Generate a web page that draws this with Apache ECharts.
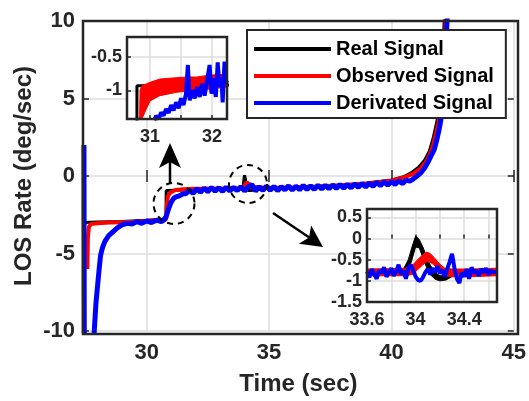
<!DOCTYPE html>
<html><head><meta charset="utf-8">
<script src="https://cdn.jsdelivr.net/npm/echarts@6/dist/echarts.min.js"></script>
<style>html,body{margin:0;padding:0;background:#fff}#c{width:529px;height:401px}</style>
</head><body><div id="c"></div>
<script>
// ---- tick labels ----
const mainXTicks = [30, 35, 40, 45];
const mainYTicks = [-10, -5, 0, 5, 10];
const inset1XTicks = [31, 31.5, 32];
const inset1XLabels = [31, 32];
const inset1YTicks = [-1, -0.5];
const inset2XLabels = [33.6, 34, 34.4];
const inset2YLabels = [-1.5, -1, -0.5, 0, 0.5];
const legendNames = ['Real Signal', 'Observed Signal', 'Derivated Signal'];

// ---- main chart series [time, value] ----
const realSignal = [[27.42,-3.0],[28,-2.97],[29,-2.93],[30,-2.85],[30.79,-2.78],[30.8,-0.93],[31.5,-0.9],[32,-0.86],[33,-0.82],[33.92,-0.78],[33.95,-0.55],[33.98,-0.15],[34.0,0.05],[34.03,-0.15],[34.06,-0.5],[34.1,-0.8],[34.15,-0.93],[34.2,-0.98],[34.25,-0.93],[34.3,-0.82],[35,-0.76],[36,-0.72],[37,-0.66],[38,-0.58],[39,-0.45],[40,-0.25],[40.5,-0.05],[40.8,0.2],[41.1,0.55],[41.35,1.0],[41.55,1.6],[41.7,2.4],[41.87,3.6],[41.97,4.8],[42.05,6.5],[42.12,8.5],[42.16,10.2],[42.2,12]];
const observedSignal = [[27.58,-6.0],[27.6,-4],[27.64,-3.3],[27.72,-3.1],[28,-3.05],[28.5,-3.0],[29,-2.98],[29.5,-2.95],[30,-2.9],[30.5,-2.85],[30.8,-2.8],[30.83,-1.8],[30.87,-1.3],[30.95,-1.1],[31.05,-1.0],[31.2,-0.9],[31.5,-0.85],[32,-0.83],[33,-0.8],[33.95,-0.8],[34.0,-0.65],[34.05,-0.45],[34.1,-0.33],[34.15,-0.45],[34.22,-0.7],[34.3,-0.8],[35,-0.77],[36,-0.73],[37,-0.68],[38,-0.6],[39,-0.48],[40,-0.3],[40.5,-0.1],[40.9,0.15],[41.2,0.5],[41.45,1.0],[41.65,1.7],[41.8,2.6],[41.95,3.6],[42.05,5],[42.15,7.5],[42.22,10],[42.3,12]];
const derivatedSignal = [[27.44,2.0],[27.47,-30],[27.8,-14],[27.86,-10],[27.93,-8.2],[28.0,-7.0],[28.06,-6.0],[28.12,-5.1],[28.2,-4.6],[28.3,-4.2],[28.45,-3.85],[28.62,-3.6],[28.8,-3.35],[29.0,-3.15],[29.2,-3.05],[29.4,-3.1],[29.6,-2.95],[29.8,-3.05],[30.0,-2.9],[30.2,-3.0],[30.4,-2.85],[30.6,-2.95],[30.7,-2.85],[30.8,-2.6],[30.9,-2.1],[31.0,-1.7],[31.1,-1.45],[31.2,-1.35],[31.3,-1.3],[31.4,-1.22],[31.5,-1.15],
[31.60,-1.15],[31.75,-0.92],[31.90,-1.12],[32.05,-0.82],[32.20,-1.05],[32.35,-0.78],[32.50,-1.02],[32.65,-0.74],[32.80,-0.98],[32.95,-0.75],[33.10,-1.0],[33.25,-0.72],[33.40,-0.97],[33.55,-0.73],[33.70,-0.95],[33.85,-0.68],[34.00,-0.97],[34.15,-0.70],[34.30,-0.55],[34.45,-0.97],[34.60,-0.69],[34.75,-0.93],[34.90,-0.65],[35.05,-0.92],[35.20,-0.67],[35.35,-0.95],[35.50,-0.69],[35.65,-0.90],[35.80,-0.63],[35.95,-0.91],[36.10,-0.65],[36.25,-0.89],[36.40,-0.61],[36.55,-0.87],[36.70,-0.63],[36.85,-0.87],[37.00,-0.59],[37.15,-0.85],[37.30,-0.59],[37.45,-0.83],[37.60,-0.57],[37.75,-0.81],[37.90,-0.55],[38.05,-0.79],[38.20,-0.53],[38.35,-0.77],[38.50,-0.51],[38.65,-0.73],[38.80,-0.48],[38.95,-0.71],[39.10,-0.45],[39.25,-0.67],[39.40,-0.41],[39.55,-0.63],[39.70,-0.38],[39.85,-0.59],[40.00,-0.35],[40.15,-0.55],[40.30,-0.31],[40.45,-0.49],[40.60,-0.27],[40.75,-0.33],[40.90,-0.18],[41.05,0.0],[41.20,0.2],[41.35,0.5],[41.50,0.9],[41.62,1.3],[41.75,1.7],[41.85,2.3],[41.95,3.0],[42.03,3.7],[42.10,5.0],[42.17,6.8],[42.23,8.5],[42.28,10.2],[42.32,12]];

// ---- inset 1 (around t = 31 s) ----
const inset1Real = [[30.6,-2.75],[30.79,-2.75],[30.79,-0.93],[30.9,-0.93],[31.0,-0.97],[31.5,-0.95],[32.3,-0.92]];
const inset1ObsTime  = [30.83,30.84,30.87,30.95,31.0,31.16,31.43,31.6,31.75,31.97,32.24,32.3];
const inset1ObsLower = [-1.6,-1.6,-1.43,-1.26,-1.16,-1.08,-1.03,-1.01,-1.0,-0.98,-0.95,-0.95];
const inset1ObsUpper = [-1.6,-1.0,-0.93,-0.9,-0.88,-0.83,-0.81,-0.8,-0.8,-0.77,-0.76,-0.76];
const inset1Derived = [[31.07,-1.45],[31.1,-1.38],[31.14,-1.43],[31.18,-1.33],[31.22,-1.38],[31.26,-1.28],[31.3,-1.34],[31.34,-1.22],[31.38,-1.3],[31.42,-1.18],[31.46,-1.27],[31.5,-1.12],[31.54,-1.22],[31.58,-1.05],[31.61,-0.62],[31.64,-1.15],[31.68,-1.0],[31.72,-1.12],[31.76,-0.95],[31.8,-1.1],[31.84,-0.9],[31.88,-1.08],[31.92,-0.85],[31.96,-0.62],[31.99,-1.05],[32.02,-0.82],[32.06,-1.1],[32.09,-0.58],[32.12,-0.95],[32.15,-0.8],[32.17,-1.18],[32.2,-0.57],[32.22,-0.9],[32.24,-0.85]];

// ---- inset 2 (around t = 34 s) ----
const inset2RealTime  = [33.6,33.9,33.94,33.97,34.0,34.03,34.06,34.09,34.12,34.16,34.2,34.25,34.3,34.67];
const inset2RealLower = [-0.85,-0.85,-0.78,-0.5,-0.2,-0.22,-0.45,-0.68,-0.85,-0.96,-1.0,-0.98,-0.9,-0.85];
const inset2RealUpper = [-0.75,-0.72,-0.5,-0.2,0.06,-0.02,-0.2,-0.42,-0.62,-0.8,-0.88,-0.88,-0.8,-0.75];
const inset2ObsTime  = [33.6,33.8,33.92,33.97,34.0,34.03,34.06,34.09,34.12,34.15,34.18,34.21,34.24,34.3,34.45,34.67];
const inset2ObsLower = [-0.88,-0.88,-0.88,-0.85,-0.78,-0.7,-0.62,-0.55,-0.56,-0.62,-0.72,-0.82,-0.88,-0.9,-0.9,-0.88];
const inset2ObsUpper = [-0.72,-0.71,-0.7,-0.64,-0.55,-0.46,-0.38,-0.32,-0.35,-0.44,-0.54,-0.63,-0.7,-0.72,-0.72,-0.7];
const inset2Derived = [[33.60,-0.78],[33.62,-0.92],[33.64,-0.72],[33.66,-0.85],[33.68,-0.95],[33.70,-0.75],[33.72,-0.82],[33.74,-0.68],[33.76,-0.9],[33.78,-0.8],[33.80,-0.7],[33.82,-0.88],[33.84,-0.78],[33.86,-0.62],[33.88,-0.85],[33.90,-0.75],[33.92,-0.95],[33.94,-0.7],[33.96,-0.62],[33.98,-0.75],[34.00,-0.9],[34.02,-0.98],[34.04,-1.0],[34.06,-0.92],[34.08,-0.8],[34.10,-0.72],[34.12,-0.85],[34.14,-0.7],[34.16,-0.8],[34.18,-0.65],[34.20,-0.82],[34.22,-0.75],[34.24,-0.9],[34.26,-0.72],[34.28,-0.55],[34.30,-0.36],[34.32,-0.7],[34.34,-0.95],[34.36,-1.05],[34.38,-0.8],[34.40,-0.9],[34.42,-0.72],[34.44,-0.95],[34.46,-0.68],[34.48,-0.82],[34.50,-0.75],[34.52,-0.88],[34.54,-0.72],[34.56,-0.8],[34.58,-0.7],[34.60,-0.85],[34.62,-0.75],[34.64,-0.8],[34.67,-0.78]];

// ---- styling ----
const FONT = "'Liberation Sans', Arial, Helvetica, sans-serif";
const INK = '#262626';
const GRIDC = '#dcdcdc';
const C_REAL = '#000000', C_OBS = '#ff0000', C_DER = '#0000ff';

function near(list, v) { return list.some(x => Math.abs(x - v) < 1e-6); }

// band drawn as a filled polygon between a lower and an upper edge, through the axis scales
function bandSeries(name, xi, yi, t, lo, hi, color, z) {
  const data = t.map((x, i) => [x, lo[i], hi[i]]);
  return {
    name: name, type: 'custom', xAxisIndex: xi, yAxisIndex: yi, z: z, clip: true,
    data: data, encode: { x: 0, y: [1, 2] },
    renderItem: function (params, api) {
      if (params.dataIndex !== 0) return null;
      const up = data.map(d => api.coord([d[0], d[2]]));
      const dn = data.map(d => api.coord([d[0], d[1]])).reverse();
      return { type: 'polygon', shape: { points: up.concat(dn) }, style: { fill: color, stroke: color, lineWidth: 1 } };
    }
  };
}

const lbl = (size, margin) => ({ fontFamily: FONT, fontWeight: 'bold', fontSize: size, color: INK, margin: margin });
const tick = (len, vals) => { const o = { show: true, inside: true, length: len, lineStyle: { color: INK, width: 1.5 } }; if (vals) o.customValues = vals; return o; };
const split = { show: true, lineStyle: { color: GRIDC, width: 1.5 } };

const chart = echarts.init(document.getElementById('c'));
const option = {
  animation: false,
  backgroundColor: '#fff',
  grid: [
    { left: 83, top: 21, width: 435, height: 313, show: false },
    { left: 127, top: 37, width: 100, height: 82, show: true, backgroundColor: '#fff', borderWidth: 0, z: 5 },
    { left: 367, top: 209, width: 130, height: 93, show: true, backgroundColor: '#fff', borderWidth: 0, z: 5 }
  ],
  xAxis: [
    { type: 'value', gridIndex: 0, min: 27.4, max: 45, position: 'bottom',
      axisLine: { show: false }, axisTick: tick(6, mainXTicks),
      axisLabel: Object.assign(lbl(22, 11), { customValues: mainXTicks }),
      splitLine: split,
      name: 'Time (sec)', nameLocation: 'middle', nameGap: 44, nameMoveOverlap: false,
      nameTextStyle: { fontFamily: FONT, fontWeight: 'bold', fontSize: 24, color: INK, lineHeight: 18 } },
    { type: 'value', gridIndex: 0, min: 27.4, max: 45, position: 'top',
      axisLine: { show: false }, axisTick: tick(6, mainXTicks), axisLabel: { show: false }, splitLine: { show: false } },
    { type: 'value', gridIndex: 1, min: 30.63, max: 32.24, position: 'bottom', z: 6,
      axisLine: { show: false }, axisTick: tick(4, inset1XTicks),
      axisLabel: Object.assign(lbl(18, 9), { customValues: inset1XLabels }),
      splitLine: split },
    { type: 'value', gridIndex: 2, min: 33.6, max: 34.67, interval: 0.2, position: 'bottom', z: 6,
      axisLine: { show: false }, axisTick: tick(4),
      axisLabel: Object.assign(lbl(18, 9), { formatter: v => near(inset2XLabels, v) ? String(Math.round(v * 10) / 10) : '' , showMinLabel: true, showMaxLabel: false}),
      splitLine: split }
  ],
  yAxis: [
    { type: 'value', gridIndex: 0, min: -10, max: 10, interval: 5, position: 'left',
      axisLine: { show: false }, axisTick: tick(6), axisLabel: lbl(22, 8), splitLine: split,
      name: 'LOS Rate (deg/sec)', nameLocation: 'middle', nameGap: 47, nameRotate: 90, nameMoveOverlap: false,
      nameTextStyle: { fontFamily: FONT, fontWeight: 'bold', fontSize: 24, color: INK } },
    { type: 'value', gridIndex: 0, min: -10, max: 10, interval: 5, position: 'right',
      axisLine: { show: false }, axisTick: tick(6), axisLabel: { show: false }, splitLine: { show: false } },
    { type: 'value', gridIndex: 1, min: -1.43, max: -0.2, position: 'left', z: 6,
      axisLine: { show: false }, axisTick: tick(4, inset1YTicks),
      axisLabel: Object.assign(lbl(18, 5), { customValues: inset1YTicks }),
      splitLine: split },
    { type: 'value', gridIndex: 2, min: -1.5, max: 0.7, interval: 0.5, position: 'left', z: 6,
      axisLine: { show: false }, axisTick: tick(4),
      axisLabel: Object.assign(lbl(18, 5), { formatter: v => near(inset2YLabels, v) ? String(Math.round(v * 10) / 10) : '', showMaxLabel: false }),
      splitLine: split }
  ],
  legend: {
    data: legendNames, orient: 'vertical', left: 247, top: 30,
    icon: 'rect', itemWidth: 77, itemHeight: 4, itemGap: 7,
    padding: [9, 12, 5, 7], backgroundColor: '#fff', borderColor: INK, borderWidth: 2,
    selectedMode: false, z: 20,
    textStyle: { fontFamily: FONT, fontWeight: 'bold', fontSize: 20, color: '#000', lineHeight: 20 }
  },
  series: [
    { name: legendNames[0], type: 'line', xAxisIndex: 0, yAxisIndex: 0, data: realSignal, showSymbol: false, symbol: 'none', color: C_REAL, lineStyle: { width: 3, color: C_REAL }, z: 2 },
    { name: legendNames[1], type: 'line', xAxisIndex: 0, yAxisIndex: 0, data: observedSignal, showSymbol: false, symbol: 'none', color: C_OBS, lineStyle: { width: 4, color: C_OBS }, z: 2 },
    { name: legendNames[2], type: 'line', xAxisIndex: 0, yAxisIndex: 0, data: derivatedSignal, showSymbol: false, symbol: 'none', color: C_DER, lineStyle: { width: 5, color: C_DER }, z: 2 },

    { name: 'i1-real', type: 'line', xAxisIndex: 2, yAxisIndex: 2, data: inset1Real, symbol: 'none', lineStyle: { width: 3, color: C_REAL }, z: 7 },
    bandSeries('i1-obs', 2, 2, inset1ObsTime, inset1ObsLower, inset1ObsUpper, C_OBS, 8),
    { name: 'i1-der', type: 'line', xAxisIndex: 2, yAxisIndex: 2, data: inset1Derived, symbol: 'none', lineStyle: { width: 4, color: C_DER }, z: 9 },

    bandSeries('i2-real', 3, 3, inset2RealTime, inset2RealLower, inset2RealUpper, C_REAL, 7),
    bandSeries('i2-obs', 3, 3, inset2ObsTime, inset2ObsLower, inset2ObsUpper, C_OBS, 8),
    { name: 'i2-der', type: 'line', xAxisIndex: 3, yAxisIndex: 3, data: inset2Derived, symbol: 'none', lineStyle: { width: 4, color: C_DER }, z: 9 }
  ],
  graphic: [
    { type: 'rect', z: 100, silent: true, shape: { x: 83, y: 21, width: 435, height: 313 }, style: { fill: null, stroke: INK, lineWidth: 2.5 } },
    { type: 'rect', z: 100, silent: true, shape: { x: 127, y: 37, width: 100, height: 82 }, style: { fill: null, stroke: INK, lineWidth: 2.5 } },
    { type: 'rect', z: 100, silent: true, shape: { x: 367, y: 209, width: 130, height: 93 }, style: { fill: null, stroke: INK, lineWidth: 2.5 } },
    { type: 'circle', z: 50, silent: true, shape: { cx: 174, cy: 203.5, r: 20.5 }, style: { fill: null, stroke: '#000', lineWidth: 2, lineDash: [6, 5] } },
    { type: 'circle', z: 50, silent: true, shape: { cx: 248, cy: 184, r: 19 }, style: { fill: null, stroke: '#000', lineWidth: 2, lineDash: [6, 5] } },
    { type: 'line', z: 50, silent: true, shape: { x1: 170, y1: 184, x2: 170, y2: 160 }, style: { stroke: '#000', lineWidth: 2.5 } },
    { type: 'polygon', z: 50, silent: true, shape: { points: [[170, 143], [159, 168], [170, 162], [181, 168]] }, style: { fill: '#000' } },
    { type: 'line', z: 50, silent: true, shape: { x1: 273, y1: 213, x2: 310, y2: 238 }, style: { stroke: '#000', lineWidth: 2.5 } },
    { type: 'polygon', z: 50, silent: true, shape: { points: [[323, 247], [298.8, 243.7], [309, 237.4], [311.2, 225.5]] }, style: { fill: '#000' } }
  ]
};
chart.setOption(option);
</script>
</body></html>
